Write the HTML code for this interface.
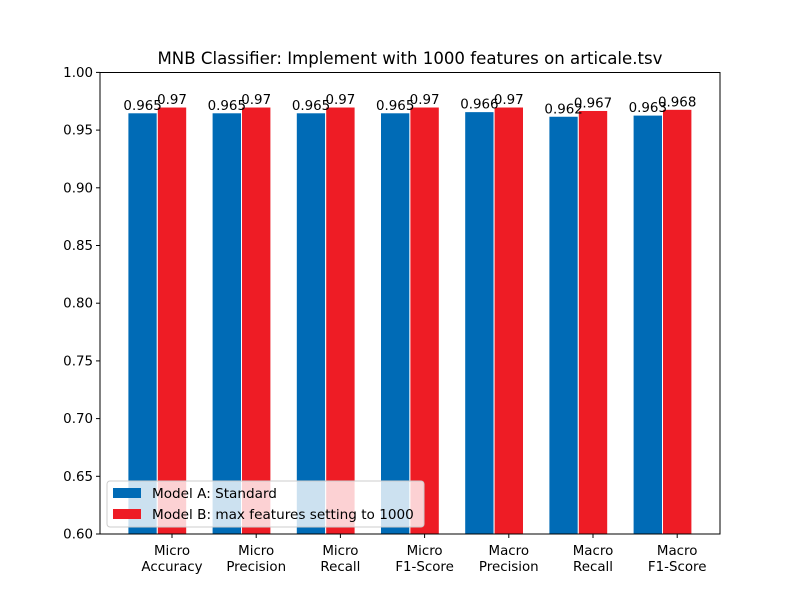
<!DOCTYPE html>
<html><head><meta charset="utf-8"><style>
body{margin:0;background:#fff;}
svg text{font-family:"DejaVu Sans","Liberation Sans",sans-serif;}
</style></head><body>
<svg id="chart" width="800" height="600" viewBox="0 0 800 600" xmlns="http://www.w3.org/2000/svg">
<rect width="800" height="600" fill="#fff"/>
<text x="410" y="64" font-size="16.6" text-anchor="middle">MNB Classifier: Implement with 1000 features on articale.tsv</text>
<g id="bars"></g>
<g id="labels"></g>
<g id="yaxis"></g>
<g id="xaxis"></g>
<rect x="100" y="72.5" width="620" height="461.5" fill="none" stroke="#000" stroke-width="1"/>
<g>
<rect x="107" y="481" width="317" height="46" rx="3" fill="#fff" fill-opacity="0.8" stroke="#ccc"/>
<rect x="113" y="488" width="28" height="10" fill="#006bb6"/>
<text x="152" y="498" font-size="13.6">Model A: Standard</text>
<rect x="113" y="509" width="28" height="10" fill="#ee1c25"/>
<text x="152" y="519" font-size="13.6">Model B: max features setting to 1000</text>
</g>
</svg>
<script>
const categories=[["Micro","Accuracy"],["Micro","Precision"],["Micro","Recall"],["Micro","F1-Score"],["Macro","Precision"],["Macro","Recall"],["Macro","F1-Score"]];
const seriesA=[0.965,0.965,0.965,0.965,0.966,0.962,0.963];
const seriesB=[0.97,0.97,0.97,0.97,0.97,0.967,0.968];
const labelsA=["0.965","0.965","0.965","0.965","0.966","0.962","0.963"];
const labelsB=["0.97","0.97","0.97","0.97","0.97","0.967","0.968"];
const yTicks=[0.60,0.65,0.70,0.75,0.80,0.85,0.90,0.95,1.00];
const NS="http://www.w3.org/2000/svg";
const x=i=>172+i*84.2;
const y=v=>534-(v-0.6)*1154;
const bw=29.4;
function mk(tag,attrs,parent){const e=document.createElementNS(NS,tag);for(const k in attrs)e.setAttribute(k,attrs[k]);document.getElementById(parent).appendChild(e);return e;}
categories.forEach((c,i)=>{
  const ax=x(i)-1.5*bw, bx=x(i)-0.5*bw;
  const a=mk('rect',{x:ax,y:y(seriesA[i]),width:bw,height:534-y(seriesA[i]),fill:'#006bb6',stroke:'#fff','stroke-width':1},'bars');
  
  
  const b=mk('rect',{x:bx,y:y(seriesB[i]),width:bw,height:534-y(seriesB[i]),fill:'#ee1c25',stroke:'#fff','stroke-width':1},'bars');
  
  
  const ta=mk('text',{x:ax+bw/2,y:y(seriesA[i])-3,'font-size':13.4,'text-anchor':'middle'},'labels');ta.textContent=labelsA[i];
  
  
  const tb=mk('text',{x:bx+bw/2,y:y(seriesB[i])-3,'font-size':13.4,'text-anchor':'middle'},'labels');tb.textContent=labelsB[i];
  
  
  mk('line',{x1:x(i),x2:x(i),y1:534,y2:538,stroke:'#000'},'xaxis');
  const t=mk('text',{x:x(i),y:555,'font-size':13.4,'text-anchor':'middle'},'xaxis');
  
  
  t.innerHTML=`<tspan x="${x(i)}" dy="0">${c[0]}</tspan><tspan x="${x(i)}" dy="16">${c[1]}</tspan>`;
});
yTicks.forEach(v=>{
  mk('line',{x1:96,x2:100,y1:y(v),y2:y(v),stroke:'#000'},'yaxis');
  const t=mk('text',{x:93,y:y(v)+4.5,'font-size':13.4,'text-anchor':'end'},'yaxis');t.textContent=v.toFixed(2);
  
  
});
</script>
</body></html>
